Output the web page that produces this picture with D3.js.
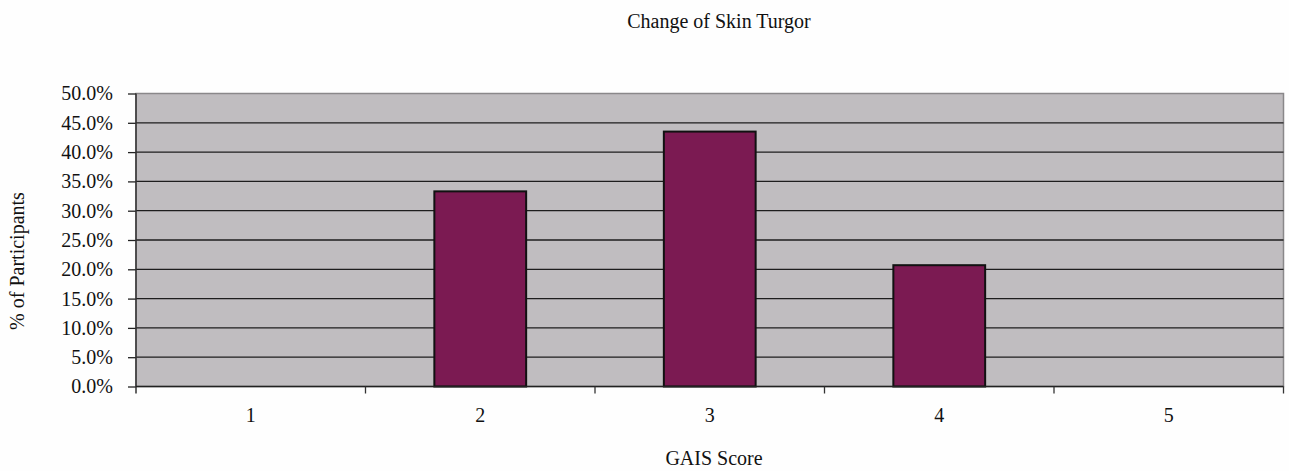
<!DOCTYPE html>
<html><head><meta charset="utf-8">
<script src="https://cdn.jsdelivr.net/npm/d3@7"></script>
<style>body{margin:0;background:#fefefe;} svg{display:block;} text{font-family:"Liberation Serif","Times New Roman",serif;fill:#111;}</style>
</head><body><svg id="c" width="1289" height="471"></svg>
<script>
const categories = ["1","2","3","4","5"];
const values = [0, 33.3, 43.5, 20.7, 0];
const yTicks = [0,5,10,15,20,25,30,35,40,45,50];
const title = "Change of Skin Turgor";
const xTitle = "GAIS Score";
const yTitle = "% of Participants";

const svg = d3.select("#c");
const m = {l:136, r:1283.5, t:93.5, b:386.5};
const x = d3.scaleBand().domain(categories).range([m.l, m.r]).paddingInner(0).paddingOuter(0);
const y = d3.scaleLinear().domain([0,50]).range([m.b, m.t]);

svg.append("rect").attr("x",m.l).attr("y",m.t).attr("width",m.r-m.l).attr("height",m.b-m.t)
  .attr("fill","#c0bdc0").attr("stroke","#8a888a").attr("stroke-width",1.5);

// gridlines
svg.append("g").selectAll("line").data(yTicks.filter(d=>d>0 && d<50)).join("line")
  .attr("x1",m.l).attr("x2",m.r).attr("y1",d=>y(d)).attr("y2",d=>y(d))
  .attr("stroke","#1e1e1e").attr("stroke-width",1.3);

// bars
const bw = x.bandwidth()*0.4;
svg.append("g").selectAll("rect").data(categories.map((c,i)=>({c,v:values[i]})).filter(d=>d.v>0)).join("rect")
  .attr("x",d=>x(d.c)+x.bandwidth()/2-bw/2).attr("width",bw)
  .attr("y",d=>y(d.v)).attr("height",d=>y(0)-y(d.v))
  .attr("fill","#7b1a52").attr("stroke","#111").attr("stroke-width",2);

// y axis
const ya = svg.append("g").attr("transform",`translate(${m.l},0)`)
  .call(d3.axisLeft(y).tickValues(yTicks).tickFormat(d=>d3.format(".1f")(d)+"%").tickSize(8).tickPadding(15));
ya.select(".domain").remove();
ya.selectAll(".tick line").attr("stroke","#222").attr("stroke-width",1.3);
ya.selectAll("text").attr("font-size",20).attr("font-family","Liberation Serif").attr("fill","#111");
svg.append("line").attr("x1",m.l).attr("x2",m.l).attr("y1",m.t).attr("y2",m.b+7).attr("stroke","#333").attr("stroke-width",1.5);

// x axis
svg.append("line").attr("x1",m.l).attr("x2",m.r).attr("y1",m.b).attr("y2",m.b).attr("stroke","#222").attr("stroke-width",1.5);
const bounds = categories.map(c=>x(c)+x.bandwidth());
svg.append("g").selectAll("line").data(bounds).join("line")
  .attr("x1",d=>d).attr("x2",d=>d).attr("y1",m.b).attr("y2",m.b+7).attr("stroke","#333").attr("stroke-width",1.3);
svg.append("g").selectAll("text").data(categories).join("text")
  .attr("x",d=>x(d)+x.bandwidth()/2).attr("y",422).attr("text-anchor","middle").attr("font-size",20).text(d=>d);

svg.append("text").attr("x",719).attr("y",28).attr("text-anchor","middle").attr("font-size",20).text(title);
svg.append("text").attr("x",714).attr("y",465).attr("text-anchor","middle").attr("font-size",20).text(xTitle);
svg.append("text").attr("transform","translate(24,261) rotate(-90)").attr("text-anchor","middle").attr("font-size",20).text(yTitle);
</script></body></html>
